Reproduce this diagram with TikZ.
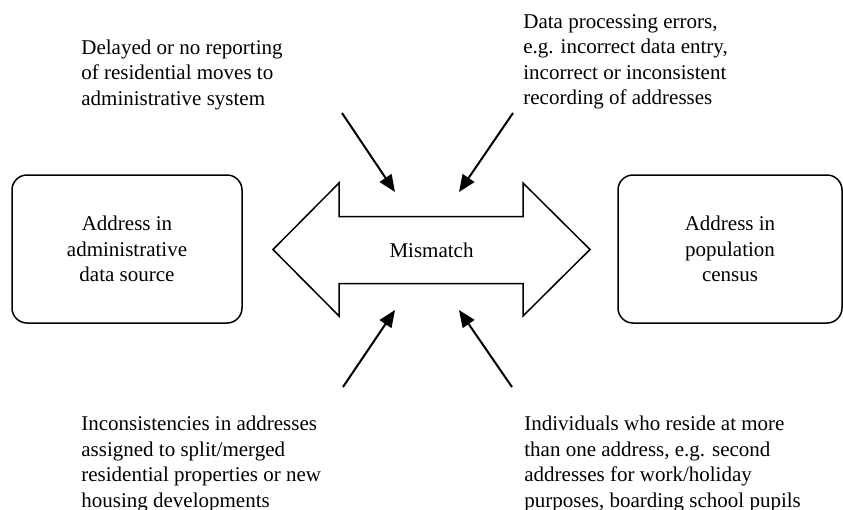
\documentclass[tikz,border=0pt]{standalone}
\usepackage{fontspec}
\setmainfont{Liberation Serif}
\usetikzlibrary{arrows.meta}

\begin{document}
\begin{tikzpicture}[
    x=0.5pt, y=-0.5pt,
    txt/.style={font=\fontsize{10.5}{12.7}\selectfont},
    addr/.style={txt, draw, line width=0.75pt, rounded corners=7.5pt, minimum height=74pt, align=center},
    note/.style={txt, align=left, inner sep=0pt, anchor=north west},
    push/.style={line width=1pt, -{Triangle[length=8.5pt, width=7pt]}}
]
\useasboundingbox (0,0) rectangle (843,510);

\node[addr, minimum width=115pt] (admin) at (127,249) {Address in\\administrative\\data source};
\node[addr, minimum width=112pt] (census) at (730,249) {Address in\\population\\census};

% double arrow
\draw[line width=0.75pt, line join=miter]
    (273,249.5) -- (339,183) -- (339,216.5) -- (523,216.5) -- (523,183)
    -- (590,249.5) -- (523,316) -- (523,283.5) -- (339,283.5) -- (339,316) -- cycle;
\node[txt] (mm) at (431.5,250) {Mismatch};

% causes
\node[note] (delay) at (81,39.5) {Delayed or no reporting\\of residential moves to\\administrative system};
\node[note] (proc) at (523,14) {Data processing errors,\\e.g. incorrect data entry,\\incorrect or inconsistent\\recording of addresses};
\node[note] (split) at (81,416) {Inconsistencies in addresses\\assigned to split/merged\\residential properties or new\\housing developments};
\node[note] (multi) at (524,416) {Individuals who reside at more\\than one address, e.g. second\\addresses for work/holiday\\purposes, boarding school pupils};

\coordinate (d0) at (342,113);  \coordinate (d1) at (395,192);
\coordinate (p0) at (513,113);  \coordinate (p1) at (459,192);
\coordinate (s0) at (343,387);  \coordinate (s1) at (395,310);
\coordinate (m0) at (512,387);  \coordinate (m1) at (459,310);

\draw[push] (d0) -- (d1);
\draw[push] (p0) -- (p1);
\draw[push] (s0) -- (s1);
\draw[push] (m0) -- (m1);
\end{tikzpicture}
\end{document}
